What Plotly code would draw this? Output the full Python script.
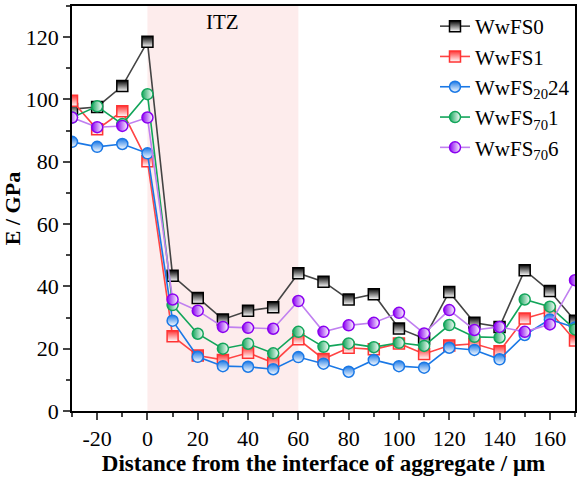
import plotly.graph_objects as go

x = [-30, -20, -10, 0, 10, 20, 30, 40, 50, 60, 70, 80, 90, 100, 110, 120, 130, 140, 150, 160, 170]

wwfs0 = [96.9, 97.6, 104.3, 118.5, 43.4, 36.3, 29.4, 32.2, 33.3, 44.2, 41.5, 35.8, 37.5, 26.5, 23.3, 38.2, 28.3, 27.0, 45.2, 38.5, 29.0]
wwfs1 = [99.6, 90.4, 96.2, 80.2, 24.0, 17.8, 16.4, 18.7, 15.5, 23.0, 16.7, 20.3, 19.8, 21.7, 18.3, 21.0, 21.6, 19.2, 29.7, 32.0, 22.6]
wwfs20_24 = [86.4, 84.8, 85.7, 82.7, 29.0, 17.4, 14.4, 14.2, 13.4, 17.3, 15.2, 12.6, 16.4, 14.4, 13.9, 20.3, 19.6, 16.6, 24.4, 29.4, 26.8]
wwfs70_1 = [94.2, 97.8, 92.1, 101.7, 34.0, 24.8, 20.0, 21.6, 18.5, 25.4, 20.6, 21.7, 20.5, 21.9, 20.9, 27.6, 23.8, 23.6, 35.8, 33.5, 26.2]
wwfs70_6 = [94.2, 91.1, 91.5, 94.2, 35.8, 32.2, 27.0, 26.7, 26.4, 35.3, 25.4, 27.5, 28.3, 31.5, 24.9, 32.4, 26.0, 27.0, 25.4, 27.8, 42.0]

names = ["WwFS0", "WwFS1", "WwFS<sub>20</sub>24", "WwFS<sub>70</sub>1", "WwFS<sub>70</sub>6"]
series = [wwfs0, wwfs1, wwfs20_24, wwfs70_1, wwfs70_6]
line_colors = ["#444444", "#ff4444", "#1a78e6", "#12a55a", "#c080f0"]
marker_colors = ["#000000", "#ff3333", "#1a78e6", "#12a55a", "#8a00f0"]
symbols = ["square", "square", "circle", "circle", "circle"]
grad_types = ["vertical", "vertical", "vertical", "horizontal", "horizontal"]

x_tickvals = [-20, 0, 20, 40, 60, 80, 100, 120, 140, 160]
x_ticktext = ["-20", "0", "20", "40", "60", "80", "100", "120", "140", "160"]
y_tickvals = [0, 20, 40, 60, 80, 100, 120]
y_ticktext = ["0", "20", "40", "60", "80", "100", "120"]

fig = go.Figure()
for name, ys, lc, mc, sym, gt in zip(names, series, line_colors, marker_colors, symbols, grad_types):
    fig.add_trace(go.Scatter(
        x=x, y=ys, name=name, mode="lines+markers",
        line=dict(color=lc, width=1.6),
        marker=dict(symbol=sym, size=11, color=mc,
                    gradient=dict(type=gt, color="white"),
                    line=dict(color=mc, width=1.5)),
    ))

fig.add_shape(type="rect", x0=0, x1=60, y0=0, y1=1, xref="x", yref="y domain",
              fillcolor="#fdecec", line=dict(width=0), layer="below")
fig.add_annotation(x=30, y=125, text="ITZ", showarrow=False,
                   font=dict(family="Liberation Serif", size=21, color="black"))

fig.update_layout(
    width=579, height=478,
    margin=dict(l=72, r=4, t=6, b=67, autoexpand=False),
    plot_bgcolor="white", paper_bgcolor="white",
    font=dict(family="Liberation Serif", size=21, color="black"),
    showlegend=True,
    legend=dict(x=1, y=1, xanchor="right", yanchor="top", bgcolor="rgba(0,0,0,0)",
                font=dict(family="Liberation Serif", size=21, color="black"),
                tracegroupgap=0),
)
fig.update_xaxes(range=[-30, 170], tickmode="array", tickvals=x_tickvals, ticktext=x_ticktext,
                 ticks="outside", ticklen=7, tickwidth=1.5, showline=True, linecolor="black", linewidth=1.5,
                 mirror=True, showgrid=False, zeroline=False, automargin=False,
                 tickfont_family="Liberation Serif", tickfont_size=22, tickfont_color="black",
                 minor=dict(dtick=10, tick0=0, ticks="outside", ticklen=4, tickwidth=1.5, showgrid=False),
                 title_text="<b>Distance from the interface of aggregate / μm</b>",
                 title_font=dict(family="Liberation Serif", size=23, color="black"), title_standoff=1)
fig.update_yaxes(range=[0, 130], tickmode="array", tickvals=y_tickvals, ticktext=y_ticktext,
                 ticks="outside", ticklen=7, tickwidth=1.5, showline=True, linecolor="black", linewidth=1.5,
                 mirror=True, showgrid=False, zeroline=False, automargin=False,
                 tickfont_family="Liberation Serif", tickfont_size=22, tickfont_color="black",
                 minor=dict(dtick=10, tick0=0, ticks="outside", ticklen=4, tickwidth=1.5, showgrid=False),
                 title_text="<b>E / GPa</b>",
                 title_font=dict(family="Liberation Serif", size=22, color="black"), title_standoff=1)

fig.write_html("out.html")
